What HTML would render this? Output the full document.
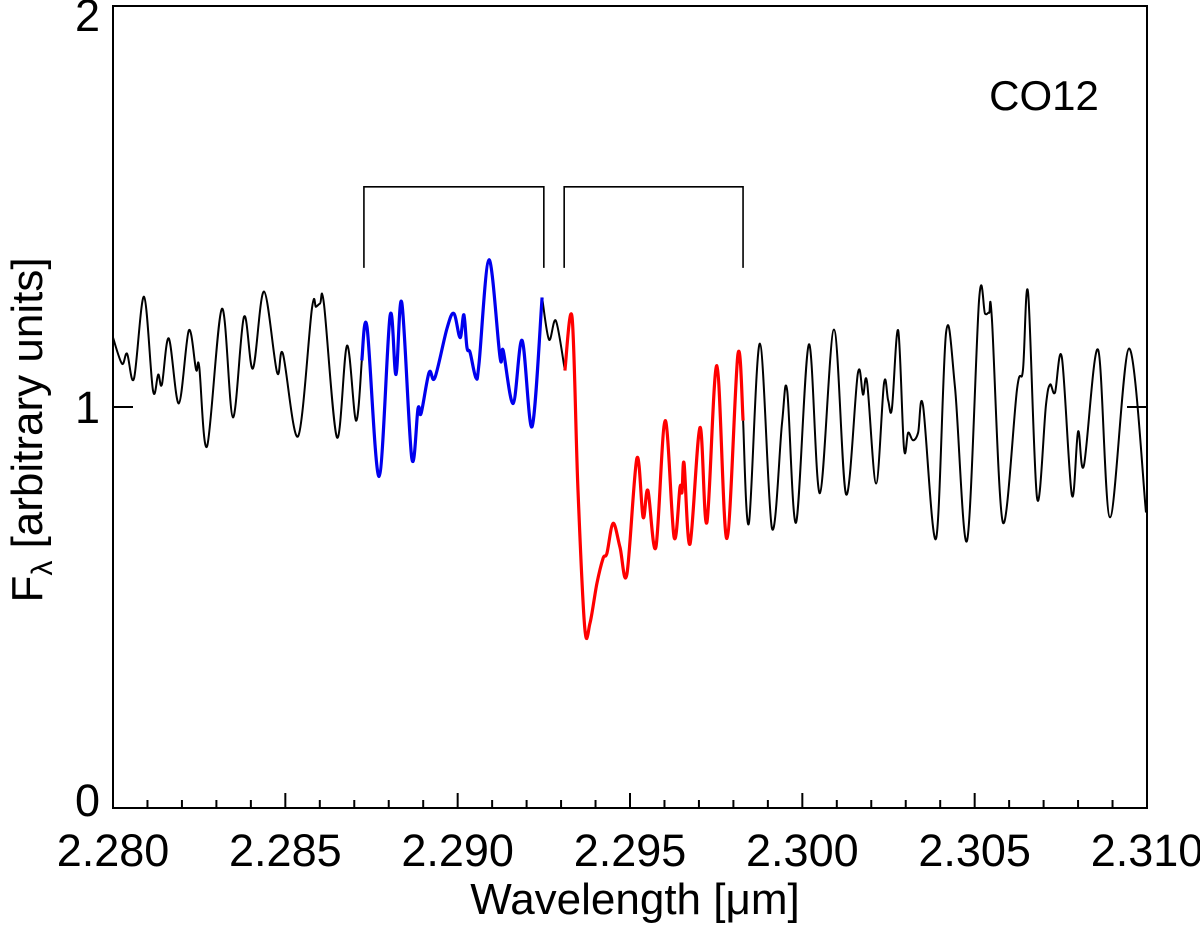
<!DOCTYPE html>
<html><head><meta charset="utf-8"><style>
html,body{margin:0;padding:0;background:#fff;width:1200px;height:928px;overflow:hidden}
svg text{font-family:"Liberation Sans",sans-serif;fill:#000}
</style></head><body>
<svg id="chart" width="1200" height="928" viewBox="0 0 1200 928" xmlns="http://www.w3.org/2000/svg">
<g id="axes"></g>
<g id="series"></g>
<text x="1044" y="110" font-size="42" text-anchor="middle">CO12</text>
<text x="635" y="914" font-size="44" text-anchor="middle">Wavelength [μm]</text>
<text transform="translate(42,430) rotate(-90)" font-size="44" text-anchor="middle">F<tspan font-size="30" dy="10">λ</tspan><tspan dy="-10"> [arbitrary units]</tspan></text>
</svg>
<script>
const xTickLabels=["2.280","2.285","2.290","2.295","2.300","2.305","2.310"];
const xTicks=[2.280,2.285,2.290,2.295,2.300,2.305,2.310];
const yTicks=[0,1,2];
const yTickLabels=["0","1","2"];
const blackWl1=[2.28000,2.28026,2.28041,2.28061,2.28090,2.28116,2.28131,2.28142,2.28162,2.28191,2.28220,2.28241,2.28250,2.28273,2.28316,2.28348,2.28380,2.28406,2.28438,2.28476,2.28493,2.28537,2.28577,2.28589,2.28601,2.28612,2.28650,2.28679,2.28705,2.28722];
const blackF1=[1.173,1.108,1.133,1.071,1.275,1.041,1.081,1.056,1.171,1.009,1.191,1.093,1.101,0.902,1.245,0.974,1.225,1.096,1.288,1.086,1.133,0.927,1.245,1.250,1.258,1.258,0.924,1.153,0.966,1.116];
const blueWl=[2.28722,2.28737,2.28772,2.28804,2.28821,2.28838,2.28867,2.28885,2.28894,2.28917,2.28934,2.28969,2.28989,2.29007,2.29018,2.29027,2.29036,2.29053,2.29062,2.29091,2.29123,2.29132,2.29161,2.29187,2.29216,2.29245];
const blueF=[1.116,1.200,0.827,1.228,1.081,1.260,0.872,0.996,0.984,1.086,1.073,1.196,1.233,1.173,1.230,1.148,1.136,1.073,1.108,1.367,1.123,1.141,1.009,1.166,0.951,1.273];
const blackWl2=[2.29245,2.29265,2.29285,2.29311];
const blackF2=[1.273,1.168,1.215,1.091];
const redWl=[2.29311,2.29332,2.29349,2.29369,2.29384,2.29404,2.29422,2.29433,2.29451,2.29471,2.29491,2.29520,2.29538,2.29552,2.29575,2.29602,2.29628,2.29645,2.29651,2.29657,2.29674,2.29703,2.29723,2.29752,2.29781,2.29813,2.29828];
const redF=[1.091,1.223,0.792,0.448,0.461,0.560,0.623,0.635,0.710,0.650,0.583,0.872,0.725,0.792,0.650,0.966,0.675,0.800,0.787,0.859,0.658,0.949,0.712,1.103,0.672,1.131,0.966];
const blackWl3=[2.29828,2.29845,2.29877,2.29912,2.29941,2.29956,2.29982,2.30019,2.30051,2.30092,2.30127,2.30161,2.30176,2.30188,2.30214,2.30237,2.30249,2.30260,2.30278,2.30295,2.30307,2.30321,2.30336,2.30350,2.30388,2.30417,2.30443,2.30478,2.30513,2.30530,2.30542,2.30550,2.30582,2.30623,2.30640,2.30655,2.30681,2.30707,2.30719,2.30733,2.30753,2.30782,2.30800,2.30817,2.30858,2.30893,2.30948,2.30997];
const blackF3=[0.966,0.710,1.158,0.697,0.959,1.041,0.712,1.156,0.785,1.193,0.782,1.083,1.031,1.061,0.809,1.059,1.016,0.996,1.191,0.897,0.936,0.917,0.936,1.004,0.672,1.186,1.049,0.667,1.268,1.233,1.235,1.220,0.712,1.046,1.091,1.285,0.772,1.006,1.056,1.036,1.123,0.780,0.939,0.854,1.143,0.725,1.146,0.737];
const bracketWl=[[2.28728,2.29250],[2.29309,2.29828]];
const bracketF=[1.549,1.347];

const X0=113,X1=1147,Y0=808,Y1=6;
const xs=w=>X0+(w-2.280)/(0.030)*(X1-X0);
const ys=f=>Y0-(f/2)*(Y0-Y1);
const NS="http://www.w3.org/2000/svg";
const axes=document.getElementById('axes'),series=document.getElementById('series');
function mk(tag,attrs,parent){const e=document.createElementNS(NS,tag);for(const k in attrs)e.setAttribute(k,attrs[k]);parent.appendChild(e);return e;}
const frame=mk('rect',{x:X0,y:Y1,width:X1-X0,height:Y0-Y1,fill:'none',stroke:'#000','stroke-width':2},axes);


for(let i=0;i<=30;i++){
  const w=2.280+i*0.001,x=xs(w),len=(i%5===0)?15:8;
  const t=mk('line',{x1:x,x2:x,y1:Y0,y2:Y0-len,stroke:'#000','stroke-width':2},axes);
  
  
}
xTicks.forEach((w,i)=>{
  const t=mk('text',{x:xs(w),y:866,'font-size':45,'text-anchor':'middle'},axes);
  t.textContent=xTickLabels[i];
  
  
});
yTicks.forEach((v,i)=>{
  const y=ys(v);
  const a=mk('line',{x1:X0,x2:X0+20,y1:y,y2:y,stroke:'#000','stroke-width':2},axes);
  
  
  const b=mk('line',{x1:X1-20,x2:X1,y1:y,y2:y,stroke:'#000','stroke-width':2},axes);
  
  
  const t=mk('text',{x:100,y:y+(i===2?25:i===0?8:16),'font-size':45,'text-anchor':'end'},axes);
  t.textContent=yTickLabels[i];
  
  
});
function smooth(wl,f){
  const p=wl.map((w,i)=>[xs(w),ys(f[i])]);
  let d='M'+p[0][0].toFixed(1)+','+p[0][1].toFixed(1);
  for(let i=0;i<p.length-1;i++){
    const p0=p[Math.max(0,i-1)],p1=p[i],p2=p[i+1],p3=p[Math.min(p.length-1,i+2)];
    const c1=[p1[0]+(p2[0]-p0[0])/6,p1[1]+(p2[1]-p0[1])/6];
    const c2=[p2[0]-(p3[0]-p1[0])/6,p2[1]-(p3[1]-p1[1])/6];
    d+='C'+c1.map(v=>v.toFixed(1)).join(',')+' '+c2.map(v=>v.toFixed(1)).join(',')+' '+p2[0].toFixed(1)+','+p2[1].toFixed(1);
  }
  return d;
}
const segs=[[blackWl1,blackF1,'#000',2,'spectrum-black-left'],[blackWl2,blackF2,'#000',2,'spectrum-black-mid'],[blackWl3,blackF3,'#000',2,'spectrum-black-right'],[blueWl,blueF,'#0000ee',3.2,'spectrum-blue'],[redWl,redF,'#ff0000',3.2,'spectrum-red']];
segs.forEach(s=>{
  const e=mk('path',{d:smooth(s[0],s[1]),fill:'none',stroke:s[2],'stroke-width':s[3],'stroke-linejoin':'round'},series);
  
  
});
bracketWl.forEach(b=>{
  const x1=xs(b[0]),x2=xs(b[1]),yt=ys(bracketF[0]),yb=ys(bracketF[1]);
  const e=mk('polyline',{points:`${x1},${yb} ${x1},${yt} ${x2},${yt} ${x2},${yb}`,fill:'none',stroke:'#000','stroke-width':1.6},series);
  
  
});
</script>
</body></html>
